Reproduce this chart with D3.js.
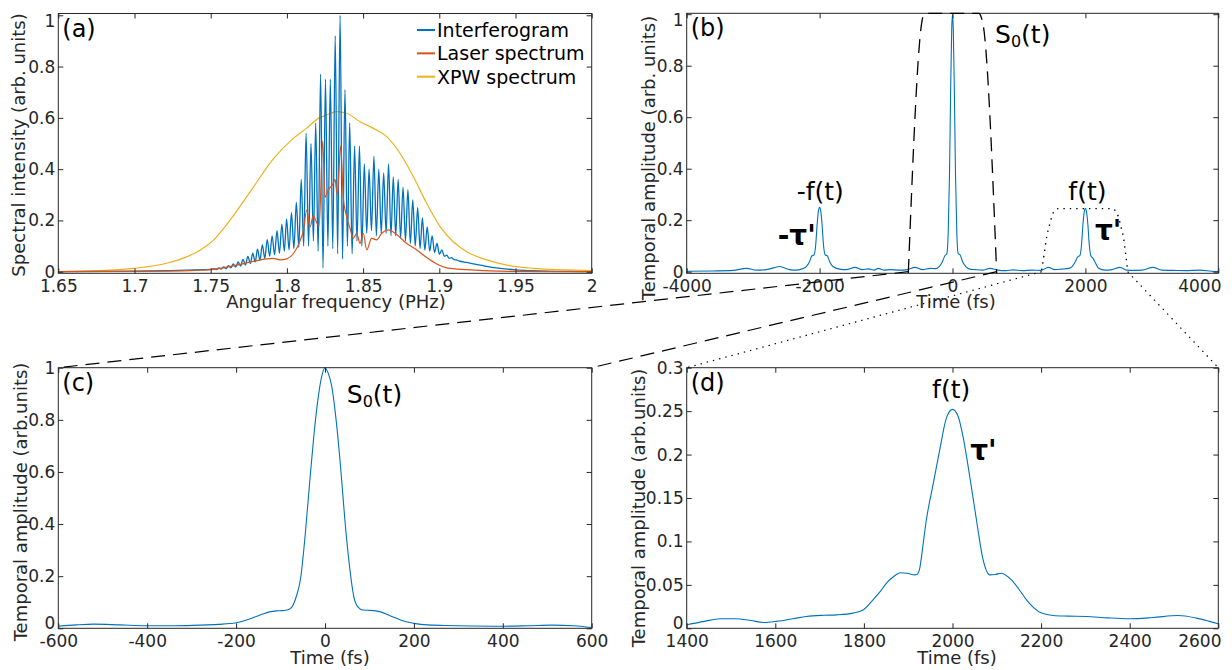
<!DOCTYPE html>
<html><head><meta charset="utf-8">
<script src="https://cdn.jsdelivr.net/npm/d3@7"></script>
<style>
body{margin:0;background:#fff;}
svg{display:block;font-family:"DejaVu Sans",sans-serif;}
</style></head><body>
<svg id="chart" width="1232" height="670"></svg>
<script>
// ---------------- DATA ----------------
// Panel (a): spectra vs angular frequency (PHz)
const aXTicks = [1.65,1.7,1.75,1.8,1.85,1.9,1.95,2];
const aXLabels = ["1.65","1.7","1.75","1.8","1.85","1.9","1.95","2"];
const aYTicks = [0,0.2,0.4,0.6,0.8,1];
const aYLabels = ["0","0.2","0.4","0.6","0.8","1"];

// Interferogram: fringe extrema (peak / trough alternating)
const interfF = [1.65,1.68,1.70,1.72,1.735,1.745,1.7505,
 1.7521,1.7537,1.7553,1.7569,1.7585,1.7601,1.7616,1.7632,1.7648,1.7664,1.7680,1.7696,1.7712,1.7728,
 1.7744,1.7760,1.7776,1.7792,1.7807,1.7823,1.7839,1.7855,1.7871,1.7887,1.7903,1.7919,1.7935,1.7951,
 1.7967,1.7983,1.7998,1.8014,1.8030,1.8046,1.8062,1.8078,1.8094,1.8110,1.8126,1.8142,1.8158,1.8174,
 1.8189,1.8205,1.8221,1.8237,1.8253,1.8269,1.8285,1.8301,1.8317,1.8333,1.8349,1.8365,1.8381,1.8397,
 1.8412,1.8428,1.8444,1.8460,1.8476,1.8492,1.8508,1.8524,1.8539,1.8555,1.8571,1.8587,1.8603,1.8619,
 1.8635,1.8651,1.8667,1.8683,1.8698,1.8714,1.8730,1.8746,1.8762,1.8778,1.8794,1.8810,1.8826,1.8842,
 1.8858,1.8874,1.8889,1.8905,1.8921,1.8937,1.8953,1.8969,1.8985,1.9001,1.9017,1.9033,1.9049,1.9065,
 1.9080,1.9096,1.9112,1.9128,
 1.918,1.925,1.93,1.94,1.95,1.96,1.97,1.985,2.0];
const interfV = [0,0.001,0.002,0.004,0.006,0.008,0.009,
 0.012,0.008,0.015,0.010,0.019,0.012,0.024,0.015,0.030,0.018,0.038,0.022,0.048,0.026,
 0.060,0.032,0.072,0.038,0.088,0.045,0.105,0.052,0.125,0.060,0.140,0.066,0.160,0.072,
 0.185,0.080,0.205,0.085,0.230,0.090,0.270,0.095,0.360,0.100,0.540,0.100,0.500,0.120,
 0.580,0.080,0.770,0.015,0.750,0.100,0.750,0.090,0.920,0.070,1.000,0.050,0.710,0.100,
 0.580,0.070,0.490,0.120,0.490,0.100,0.420,0.150,0.400,0.160,0.450,0.140,0.400,0.150,
 0.385,0.150,0.420,0.140,0.370,0.140,0.360,0.130,0.330,0.120,0.320,0.110,0.280,0.100,
 0.250,0.090,0.210,0.085,0.175,0.080,0.140,0.075,0.110,0.068,0.085,0.060,0.065,0.052,
 0.055,0.047,0.046,0.042,
 0.036,0.028,0.022,0.013,0.007,0.004,0.002,0.001,0.0];

const laserF = [1.65,1.70,1.721,1.74,1.7517,1.7648,1.778,1.7867,1.7911,1.7955,1.7999,1.8042,1.8086,1.8108,
 1.8130,1.8152,1.8173,1.8196,1.8212,1.8235,1.8250,1.8272,1.8300,1.8316,1.8330,1.8353,1.8370,1.8392,
 1.8414,1.8436,1.8458,1.8480,1.8501,1.8524,1.8556,1.8589,1.8622,1.8665,1.8720,1.8786,1.8852,1.8917,
 1.8983,1.9049,1.918,1.9287,1.9398,1.9508,2.0];
const laserV = [0,0.001,0.002,0.005,0.009,0.023,0.040,0.050,0.052,0.046,0.050,0.070,0.120,0.160,
 0.240,0.175,0.220,0.190,0.180,0.510,0.290,0.320,0.340,0.360,0.300,0.490,0.290,0.215,
 0.170,0.130,0.150,0.110,0.150,0.085,0.130,0.124,0.150,0.163,0.145,0.110,0.085,0.055,
 0.030,0.015,0.008,0.004,0.002,0.001,0];

const xpwF = [1.65,1.6774,1.6992,1.7211,1.7342,1.743,1.7475,1.7517,1.758,1.7648,1.778,1.7911,1.8042,1.813,1.8206,
 1.8261,1.8327,1.8392,1.848,1.8567,1.8655,1.8742,1.883,1.8917,1.9005,1.9092,1.918,1.9311,1.9442,
 1.9617,1.9836,2.0];
const xpwV = [0.0,0.004,0.013,0.033,0.058,0.084,0.102,0.122,0.165,0.218,0.330,0.440,0.520,0.560,0.598,
 0.611,0.624,0.618,0.585,0.559,0.527,0.462,0.370,0.267,0.176,0.117,0.078,0.046,0.026,
 0.013,0.007,0.004];

// Panel (b): temporal amplitude vs time (fs)
const bXTicks = [-4000,-2000,0,2000,4000];
const bXLabels = ["-4000","-2000","0","2000","4000"];
const bYTicks = [0,0.2,0.4,0.6,0.8,1];
const bYLabels = ["0","0.2","0.4","0.6","0.8","1"];
const bT = [-4000,-3600,-3300,-3100,-2950,-2800,-2600,-2450,-2345,-2250,-2200,-2150,-2115,-2085,-2060,
 -2035,-2015,-2000,-1985,-1965,-1940,-1915,-1885,-1850,-1800,-1700,-1600,-1467,-1360,-1267,-1180,-1117,
 -1030,-940,-790,-680,-564,-450,-339,-260,-200,-150,-115,-85,-65,-45,-28,-12,0,12,28,45,65,85,115,150,
 200,260,340,450,564,680,800,915,1050,1200,1330,1442,1540,1643,1750,1800,1850,1885,1915,1940,1965,1985,
 2000,2015,2035,2060,2085,2115,2150,2200,2300,2400,2520,2620,2717,2850,3017,3150,3318,3500,3724,3900,4000];
const bV = [0.002,0.003,0.005,0.013,0.006,0.008,0.020,0.008,0.006,0.012,0.020,0.040,0.062,0.065,0.100,
 0.190,0.240,0.250,0.240,0.190,0.100,0.065,0.062,0.040,0.020,0.010,0.008,0.017,0.008,0.011,0.006,0.013,
 0.006,0.008,0.006,0.008,0.017,0.008,0.013,0.012,0.020,0.040,0.062,0.070,0.150,0.380,0.700,0.940,1.0,0.940,0.700,0.380,0.150,0.070,0.065,0.040,
 0.020,0.010,0.008,0.006,0.013,0.006,0.004,0.007,0.004,0.006,0.005,0.017,0.008,0.010,0.013,0.020,0.040,0.058,0.062,0.100,0.190,0.235,
 0.246,0.235,0.190,0.100,0.060,0.052,0.035,0.013,0.006,0.008,0.017,0.006,0.005,0.006,0.017,0.006,0.005,0.004,0.006,0.002,0.001];
// filter windows drawn in (b)
const winS0T = [-665,-464,-440,-410,400,430,464,665];
const winS0V = [-0.005,0.965,0.995,1.003,1.003,0.990,0.955,-0.006];
const winFT = [1342,1380,1418,1467,1510,1542,1600,2400,2440,2495,2540,2571,2605,2636];
const winFV = [0.007,0.070,0.136,0.188,0.225,0.240,0.245,0.245,0.240,0.214,0.170,0.136,0.070,0.007];

// Panel (c): S0(t)
const cXTicks = [-600,-400,-200,0,200,400,600];
const cXLabels = ["-600","-400","-200","0","200","400","600"];
const cYTicks = [0,0.2,0.4,0.6,0.8,1];
const cYLabels = ["0","0.2","0.4","0.6","0.8","1"];
const cT = [-600,-560,-520,-460,-400,-340,-280,-240,-200,-180,-160,-140,-125,-110,-95,-85,-75,-65,-55,-45,
 -35,-25,-15,-7,0,7,15,25,35,45,55,65,75,85,95,110,125,140,155,170,185,200,230,270,330,400,460,510,560,600];
const cV = [0.008,0.013,0.016,0.013,0.010,0.010,0.012,0.015,0.021,0.030,0.042,0.055,0.063,0.067,0.068,0.070,0.080,0.120,0.190,0.350,
 0.550,0.740,0.890,0.970,1.0,0.980,0.930,0.800,0.620,0.410,0.240,0.120,0.080,0.070,0.069,0.068,0.063,0.053,0.042,0.032,
 0.024,0.019,0.013,0.011,0.009,0.008,0.010,0.012,0.010,0.003];

// Panel (d): f(t)
const dXTicks = [1400,1600,1800,2000,2200,2400,2600];
const dXLabels = ["1400","1600","1800","2000","2200","2400","2600"];
const dYTicks = [0,0.05,0.1,0.15,0.2,0.25,0.3];
const dYLabels = ["0","0.05","0.1","0.15","0.2","0.25","0.3"];
const dT = [1400,1440,1475,1510,1545,1573,1603,1640,1670,1710,1738,1775,1798,1821,1838,1851,1866,1882,1897,1915,
 1920,1926,1933,1941,1948,1956,1971,1986,2000,2013,2024,2039,2054,2069,2084,2097,2110,2133,2150,2167,2185,2201,
 2227,2260,2302,2350,2400,2453,2509,2551,2580,2600];
const dV = [0.004,0.008,0.011,0.011,0.009,0.0067,0.008,0.011,0.0136,0.015,0.0155,0.0175,0.021,0.033,0.043,0.052,0.059,0.064,0.0634,0.0615,
 0.062,0.069,0.094,0.125,0.145,0.165,0.205,0.2416,0.252,0.2435,0.220,0.1745,0.125,0.079,0.0615,0.062,0.0634,0.0557,0.045,0.0328,0.023,0.0175,
 0.0147,0.014,0.0136,0.012,0.011,0.0124,0.0147,0.0117,0.008,0.0052];

// ---------------- DRAWING ----------------
const svg = d3.select('#chart');
const defs = svg.append('defs');
const AX = '#262626';
const C_BLUE = '#0072BD', C_ORANGE = '#D95319', C_YELLOW = '#EDB120';

const panelCfg = {
  a:{box:{l:58.3,t:13.5,r:591.7,b:273.3}, xDomain:[1.65,2], yDomain:[-0.0062,1.007],
     xT:aXTicks,xL:aXLabels,yT:aYTicks,yL:aYLabels,
     yTitle:"Spectral intensity (arb. units)", yTitleX:25, yTitleY:145,
     xTitle:"Angular frequency (PHz)", xTitleX:336, xTitleY:307.5, tag:"(a)",
     nudge:{v:1,dy:6}},
  b:{box:{l:686.7,t:13.3,r:1218.3,b:273.3}, xDomain:[-4000,4000], yDomain:[-0.0062,1.0035],
     xT:bXTicks,xL:bXLabels,yT:bYTicks,yL:bYLabels,
     yTitle:"Temporal amplitude (arb. units)", yTitleX:655, yTitleY:158,
     xTitle:"Time (fs)", xTitleX:956, xTitleY:308, tag:"(b)",
     nudge:{v:1,dy:6}},
  c:{box:{l:58.3,t:367.7,r:591.7,b:628.3}, xDomain:[-600,600], yDomain:[0,1],
     xT:cXTicks,xL:cXLabels,yT:cYTicks,yL:cYLabels,
     yTitle:"Temporal amplitude (arb.units)", yTitleX:26.5, yTitleY:502,
     xTitle:"Time (fs)", xTitleX:330, xTitleY:664, tag:"(c)",
     nudge:{v:0,dy:-5}},
  d:{box:{l:686.7,t:367.7,r:1218.3,b:628.3}, xDomain:[1400,2600], yDomain:[0,0.3],
     xT:dXTicks,xL:dXLabels,yT:dYTicks,yL:dYLabels,
     yTitle:"Temporal amplitude (arb.units)", yTitleX:645, yTitleY:508,
     xTitle:"Time (fs)", xTitleX:957, xTitleY:664, tag:"(d)",
     nudge:{v:0,dy:-5}}
};

function styleAxis(sel){
  sel.attr('font-family','"DejaVu Sans", sans-serif').attr('font-size',17);
  sel.selectAll('.domain').remove();
  sel.selectAll('line').attr('stroke',AX).attr('stroke-width',1);
  sel.selectAll('text').attr('fill',AX);
}

const P = {};
for (const id of ['a','b','c','d']) {
  const p = panelCfg[id];
  const x = d3.scaleLinear().domain(p.xDomain).range([p.box.l,p.box.r]);
  const y = d3.scaleLinear().domain(p.yDomain).range([p.box.b,p.box.t]);
  const g = svg.append('g').attr('id','panel-'+id);
  defs.append('clipPath').attr('id','clip-'+id).append('rect')
    .attr('x',p.box.l).attr('y',p.box.t-1).attr('width',p.box.r-p.box.l).attr('height',p.box.b-p.box.t+1);
  const plot = g.append('g').attr('clip-path',`url(#clip-${id})`);
  const ax = g.append('g');
  const bottom = ax.append('g').attr('transform',`translate(0,${p.box.b})`)
    .call(d3.axisBottom(x).tickValues(p.xT).tickFormat((d,i)=>p.xL[i]).tickSizeInner(-5).tickSizeOuter(0).tickPadding(7));
  const top = ax.append('g').attr('transform',`translate(0,${p.box.t})`)
    .call(d3.axisTop(x).tickValues(p.xT).tickFormat('').tickSizeInner(-5).tickSizeOuter(0));
  const left = ax.append('g').attr('transform',`translate(${p.box.l},0)`)
    .call(d3.axisLeft(y).tickValues(p.yT).tickFormat((d,i)=>p.yL[i]).tickSizeInner(-5).tickSizeOuter(0).tickPadding(3));
  const right = ax.append('g').attr('transform',`translate(${p.box.r},0)`)
    .call(d3.axisRight(y).tickValues(p.yT).tickFormat('').tickSizeInner(-5).tickSizeOuter(0));
  [bottom,top,left,right].forEach(styleAxis);
  left.selectAll('.tick text').filter(d=>d===p.nudge.v).attr('y',p.nudge.dy);
  bottom.selectAll('.tick text').each(function(d){
    const w = this.getComputedTextLength();
    if (x(d) + w/2 > 1221) d3.select(this).attr('x', 1221 - w/2 - x(d));
  });
  ax.append('rect').attr('x',p.box.l).attr('y',p.box.t).attr('width',p.box.r-p.box.l).attr('height',p.box.b-p.box.t)
    .attr('fill','none').attr('stroke',AX).attr('stroke-width',1);
  // titles
  ax.append('text').attr('x',p.xTitleX).attr('y',p.xTitleY).attr('text-anchor','middle')
    .attr('font-size',18).attr('fill',AX).text(p.xTitle);
  ax.append('text').attr('transform',`translate(${p.yTitleX},${p.yTitleY}) rotate(-90)`).attr('text-anchor','middle')
    .attr('font-size',18).attr('fill',AX).text(p.yTitle);
  ax.append('text').attr('x',p.box.l+4).attr('y',p.box.t+23).attr('font-size',24).attr('fill','#000').text(p.tag);
  P[id] = {x,y,g,plot,ax,cfg:p};
}

function lineOf(p, curve){
  return d3.line().x(d=>p.x(d[0])).y(d=>p.y(d[1])).curve(curve||d3.curveMonotoneX);
}

// Panel (a) curves
{
  const p = P.a;
  p.plot.append('path').datum(d3.zip(xpwF,xpwV)).attr('d',lineOf(p)).attr('fill','none').attr('stroke',C_YELLOW).attr('stroke-width',1.2);
  p.plot.append('path').datum(d3.zip(interfF,interfV)).attr('d',lineOf(p)).attr('fill','none').attr('stroke',C_BLUE).attr('stroke-width',1.3);
  p.plot.append('path').datum(d3.zip(laserF,laserV)).attr('d',lineOf(p)).attr('fill','none').attr('stroke',C_ORANGE).attr('stroke-width',1.2);
  const leg = [["Interferogram",C_BLUE],["Laser spectrum",C_ORANGE],["XPW spectrum",C_YELLOW]];
  const lg = p.g.append('g');
  leg.forEach((l,i)=>{
    const yy = 30 + i*23.35;
    lg.append('line').attr('x1',417).attr('x2',435).attr('y1',yy).attr('y2',yy).attr('stroke',l[1]).attr('stroke-width',2);
    lg.append('text').attr('x',437).attr('y',yy).attr('dy','0.36em').attr('font-size',19).attr('fill','#000').text(l[0]);
  });
}

// Panel (b)
{
  const p = P.b;
  p.plot.append('path').datum(d3.zip(bT,bV)).attr('d',lineOf(p)).attr('fill','none').attr('stroke',C_BLUE).attr('stroke-width',1.1);
  p.g.append('path').datum(d3.zip(winS0T,winS0V)).attr('d',lineOf(p)).attr('fill','none').attr('stroke','#000')
    .attr('stroke-width',1.3).attr('stroke-dasharray','14,8');
  p.g.append('path').datum(d3.zip(winFT,winFV)).attr('d',lineOf(p)).attr('fill','none').attr('stroke','#000')
    .attr('stroke-width',1.4).attr('stroke-dasharray','1.4,5');
  const s0 = p.g.append('text').attr('x',p.x(640)).attr('y',p.y(0.888)).attr('font-size',25).attr('fill','#000');
  s0.append('tspan').text('S');
  s0.append('tspan').attr('font-size',16).attr('dy',4).text('0');
  s0.append('tspan').attr('dy',-4).text('(t)');
  p.g.append('text').attr('x',p.x(-1990)).attr('y',p.y(0.278)).attr('text-anchor','middle').attr('font-size',25).attr('fill','#000').text('-f(t)');
  p.g.append('text').attr('x',p.x(2030)).attr('y',p.y(0.278)).attr('text-anchor','middle').attr('font-size',25).attr('fill','#000').text('f(t)');
  p.g.append('text').attr('x',p.x(-2630)).attr('y',p.y(0.104)).attr('font-size',28).attr('font-weight','bold').attr('fill','#000').text("-τ'");
  p.g.append('text').attr('x',p.x(2144)).attr('y',p.y(0.123)).attr('font-size',28).attr('font-weight','bold').attr('fill','#000').text("τ'");
}

// Panel (c)
{
  const p = P.c;
  p.plot.append('path').datum(d3.zip(cT,cV)).attr('d',lineOf(p)).attr('fill','none').attr('stroke',C_BLUE).attr('stroke-width',1.1);
  const s0 = p.g.append('text').attr('x',p.x(49)).attr('y',p.y(0.865)).attr('font-size',25).attr('fill','#000');
  s0.append('tspan').text('S');
  s0.append('tspan').attr('font-size',16).attr('dy',4).text('0');
  s0.append('tspan').attr('dy',-4).text('(t)');
}

// Panel (d)
{
  const p = P.d;
  p.plot.append('path').datum(d3.zip(dT,dV)).attr('d',lineOf(p)).attr('fill','none').attr('stroke',C_BLUE).attr('stroke-width',1.1);
  p.g.append('text').attr('x',p.x(1997)).attr('y',p.y(0.265)).attr('text-anchor','middle').attr('font-size',25).attr('fill','#000').text('f(t)');
  p.g.append('text').attr('x',p.x(2040)).attr('y',p.y(0.194)).attr('font-size',28).attr('font-weight','bold').attr('fill','#000').text("τ'");
}

// Zoom connector lines (from (b) windows to (c)/(d) corners)
{
  const b = P.b, c = P.c, d = P.d;
  const conn = svg.append('g').attr('fill','none').attr('stroke','#000').attr('stroke-width',1.2);
  const seg = (x1,y1,x2,y2,dash)=>conn.append('line').attr('x1',x1).attr('y1',y1).attr('x2',x2).attr('y2',y2).attr('stroke-dasharray',dash);
  seg(b.x(winS0T[0]), b.y(0), c.x(c.cfg.xDomain[0]), c.y(c.cfg.yDomain[1]), '14,8');
  seg(b.x(winS0T[winS0T.length-1]), b.y(0), c.x(c.cfg.xDomain[1]), c.y(c.cfg.yDomain[1]), '14,8');
  seg(b.x(winFT[0]), b.y(0), d.x(d.cfg.xDomain[0]), d.y(d.cfg.yDomain[1]), '1.4,5');
  seg(b.x(winFT[winFT.length-1]), b.y(0), d.x(d.cfg.xDomain[1]), d.y(d.cfg.yDomain[1]), '1.4,5');
}
</script>
</body></html>
